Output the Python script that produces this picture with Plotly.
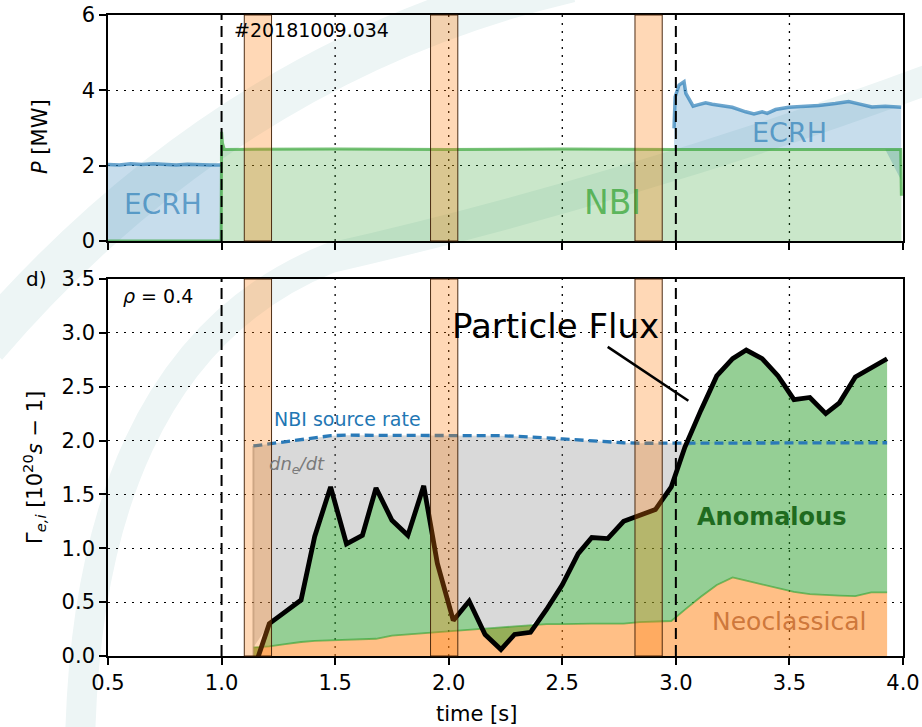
import numpy as np
import plotly.graph_objects as go

# ---------------- data ----------------
# Heating power (top panel)
ECRH1_T = [0.5, 0.55, 0.6, 0.65, 0.7, 0.75, 0.8, 0.85, 0.9, 0.95, 1.0]
ECRH1_P = [2.03, 2.02, 2.05, 2.03, 2.05, 2.04, 2.02, 2.04, 2.02, 2.02, 2.02]

ECRH2_T = [2.992, 2.997, 3.014, 3.036, 3.044, 3.061, 3.076, 3.10, 3.131, 3.16, 3.19, 3.248,
           3.307, 3.344, 3.38, 3.402, 3.439, 3.497, 3.571, 3.629, 3.702, 3.761, 3.805,
           3.863, 3.922, 3.992]
ECRH2_P = [2.99, 3.83, 4.14, 4.23, 3.92, 3.74, 3.58, 3.62, 3.67, 3.63, 3.61, 3.55,
           3.43, 3.37, 3.43, 3.39, 3.49, 3.55, 3.58, 3.60, 3.65, 3.70, 3.64,
           3.56, 3.58, 3.55]

NBI_T = [0.5, 0.998, 1.0, 1.004, 1.012, 1.5, 2.0, 2.5, 3.0, 3.5, 3.99, 3.993]
NBI_P = [0.0, 0.0, 2.9, 2.6, 2.43, 2.44, 2.43, 2.44, 2.43, 2.43, 2.43, 1.2]

# Particle balance at rho = 0.4 (bottom panel), units 1e20 / s
TIME = [1.14, 1.21, 1.28, 1.35, 1.41, 1.48, 1.55, 1.62, 1.68, 1.75, 1.82, 1.89, 1.95, 2.02,
        2.09, 2.16, 2.23, 2.29, 2.36, 2.43, 2.50, 2.57, 2.63, 2.70, 2.77, 2.84, 2.91, 2.98,
        3.04, 3.11, 3.18, 3.25, 3.31, 3.38, 3.45, 3.52, 3.59, 3.66, 3.72, 3.79, 3.86, 3.93]
FLUX = [-0.14, 0.30, 0.41, 0.52, 1.11, 1.57, 1.04, 1.12, 1.56, 1.26, 1.12, 1.58, 0.86, 0.33,
        0.51, 0.20, 0.06, 0.20, 0.22, 0.43, 0.66, 0.95, 1.10, 1.09, 1.25, 1.30, 1.36, 1.57,
        1.94, 2.28, 2.60, 2.76, 2.84, 2.76, 2.60, 2.38, 2.40, 2.25, 2.35, 2.59, 2.67, 2.76]
NEOCLASSICAL = [0.08, 0.09, 0.11, 0.13, 0.14, 0.145, 0.15, 0.155, 0.16, 0.19, 0.20, 0.21,
                0.225, 0.235, 0.245, 0.255, 0.265, 0.275, 0.285, 0.295, 0.295, 0.30, 0.30,
                0.30, 0.30, 0.315, 0.32, 0.325, 0.43, 0.55, 0.66, 0.73, 0.70, 0.665, 0.63,
                0.595, 0.575, 0.565, 0.56, 0.555, 0.59, 0.59]
NBI_SOURCE = [1.95, 1.97, 1.99, 2.01, 2.03, 2.045, 2.05, 2.05, 2.05, 2.05, 2.05, 2.05, 2.05,
              2.05, 2.05, 2.05, 2.045, 2.04, 2.035, 2.025, 2.015, 2.005, 1.995, 1.99, 1.98,
              1.975, 1.975, 1.975, 1.98, 1.98, 1.98, 1.98, 1.98, 1.98, 1.98, 1.98, 1.98,
              1.98, 1.98, 1.98, 1.98, 1.98]

# analysis windows and phase boundaries
WINDOWS = [(1.10, 1.22), (1.92, 2.04), (2.82, 2.94)]
PHASE_LINES = [1.0, 3.0]

X_TICKS = [0.5, 1.0, 1.5, 2.0, 2.5, 3.0, 3.5, 4.0]
P_TICKS = [0, 2, 4, 6]
G_TICKS = [0.0, 0.5, 1.0, 1.5, 2.0, 2.5, 3.0, 3.5]

# ---------------- styling ----------------
FONT = "DejaVu Sans"
W, H = 922, 727
ML, MR, MT, MB = 108, 19, 15, 71
PW, PH = W - ML - MR, H - MT - MB

BLUE = (31, 119, 180)
GREEN = (44, 160, 44)
ORANGE = (255, 127, 14)
GRID_DASH = "2px,6px"


def rgba(c, a):
    return f"rgba({c[0]},{c[1]},{c[2]},{a})"


def px(x):
    return (x - ML) / PW


def py(y):
    return (H - MB - y) / PH


fig = go.Figure()

# ---- top panel: heating power ----
fig.add_trace(go.Scatter(x=ECRH1_T, y=ECRH1_P, mode="lines", fill="tozeroy",
                         fillcolor=rgba(BLUE, 0.25), line=dict(color=rgba(BLUE, 0.65), width=3.5),
                         xaxis="x", yaxis="y", hoverinfo="skip"))
nbi_under_ecrh = np.interp(ECRH2_T, NBI_T, NBI_P)
fig.add_trace(go.Scatter(x=ECRH2_T, y=nbi_under_ecrh, mode="lines", line=dict(width=0),
                         xaxis="x", yaxis="y", hoverinfo="skip"))
fig.add_trace(go.Scatter(x=ECRH2_T, y=ECRH2_P, mode="lines", fill="tonexty",
                         fillcolor=rgba(BLUE, 0.25), line=dict(color=rgba(BLUE, 0.65), width=3.5),
                         xaxis="x", yaxis="y", hoverinfo="skip"))
fig.add_trace(go.Scatter(x=NBI_T, y=NBI_P, mode="lines", fill="tozeroy",
                         fillcolor=rgba(GREEN, 0.25), line=dict(color=rgba(GREEN, 0.65), width=3),
                         xaxis="x", yaxis="y", hoverinfo="skip"))

# ---- bottom panel: particle balance ----
flux = np.array(FLUX)
neo = np.array(NEOCLASSICAL)
src = np.array(NBI_SOURCE)
dndt_floor = np.minimum(np.maximum(flux, neo), src)

fig.add_trace(go.Scatter(x=TIME, y=dndt_floor, mode="lines", line=dict(width=0),
                         xaxis="x2", yaxis="y2", hoverinfo="skip"))
fig.add_trace(go.Scatter(x=TIME, y=NBI_SOURCE, mode="lines", fill="tonexty",
                         fillcolor="rgba(128,128,128,0.3)", line=dict(width=0),
                         xaxis="x2", yaxis="y2", hoverinfo="skip"))
fig.add_trace(go.Scatter(x=TIME, y=NEOCLASSICAL, mode="lines", fill="tozeroy",
                         fillcolor=rgba(ORANGE, 0.5), line=dict(color=rgba(GREEN, 0.6), width=1.8),
                         xaxis="x2", yaxis="y2", hoverinfo="skip"))
fig.add_trace(go.Scatter(x=TIME, y=FLUX, mode="lines", fill="tonexty",
                         fillcolor=rgba(GREEN, 0.5), line=dict(width=0),
                         xaxis="x2", yaxis="y2", hoverinfo="skip"))
# left edge of the dn/dt region
fig.add_trace(go.Scatter(x=[TIME[0], TIME[0]], y=[0, NBI_SOURCE[0]], mode="lines",
                         line=dict(color="rgba(128,128,128,0.45)", width=2),
                         xaxis="x2", yaxis="y2", hoverinfo="skip"))
fig.add_trace(go.Scatter(x=TIME, y=NBI_SOURCE, mode="lines",
                         line=dict(color="#2a7ab8", width=3.3, dash="9px,5px"),
                         xaxis="x2", yaxis="y2", hoverinfo="skip"))
fig.add_trace(go.Scatter(x=TIME, y=FLUX, mode="lines",
                         line=dict(color="black", width=4.8),
                         xaxis="x2", yaxis="y2", hoverinfo="skip"))


# ---- background logo swooshes ----
def swoosh(points_cmd):
    parts = []
    for tok in points_cmd:
        if isinstance(tok, str):
            parts.append(tok)
        else:
            parts.append(f"{px(tok[0]):.4f},{py(tok[1]):.4f}")
    return " ".join(parts)


WATERMARK = "rgb(237,245,245)"
shapes = [
    dict(type="path", xref="paper", yref="paper", layer="below",
         path=swoosh(["M", (-15, 345), "Q", (230, 60), (570, -20)]),
         line=dict(color=WATERMARK, width=45)),
    dict(type="path", xref="paper", yref="paper", layer="below",
         path=swoosh(["M", (80, 745), "C", (84, 520), (150, 330), (330, 258),
                      "C", (520, 215), (740, 150), (940, 75)]),
         line=dict(color=WATERMARK, width=30)),
]

for xr, yr in (("x", "y domain"), ("x2", "y2 domain")):
    # vertical dotted grid (phase boundaries carry their own dashed lines)
    for t in X_TICKS[1:-1]:
        if t in PHASE_LINES:
            continue
        shapes.append(dict(type="line", xref=xr, yref=yr, x0=t, x1=t, y0=0, y1=1,
                           line=dict(color="black", width=1.3, dash=GRID_DASH), layer="below"))
    for a, b in WINDOWS:
        shapes.append(dict(type="rect", xref=xr, yref=yr, x0=a, x1=b, y0=0, y1=1,
                           fillcolor=rgba(ORANGE, 0.3),
                           line=dict(color="rgba(60,25,0,0.9)", width=1), layer="above"))
    for t in PHASE_LINES:
        shapes.append(dict(type="line", xref=xr, yref=yr, x0=t, x1=t, y0=0, y1=1,
                           line=dict(color="black", width=2, dash="11px,6px"), layer="above"))

# pointer from the "Particle Flux" label to the curve
shapes.append(dict(type="line", xref="x2", yref="y2", x0=2.70, y0=2.87, x1=3.055, y1=2.37,
                   line=dict(color="black", width=2.5), layer="above"))


# ---------------- text ----------------
def label(text, x, y, size, color="black", xref="x", yref="y", xanchor="center", **kw):
    return dict(text=text, x=x, y=y, xref=xref, yref=yref, showarrow=False,
                xanchor=xanchor, yanchor="middle",
                font=dict(family=FONT, size=size, color=color), **kw)


annotations = [
    label("#20181009.034", 1.047, 5.6, 19, xanchor="left"),
    label("ECRH", 0.744, 0.98, 28, rgba(BLUE, 0.65)),
    label("NBI", 2.722, 1.03, 33, rgba(GREEN, 0.7)),
    label("ECRH", 3.50, 2.89, 27, rgba(BLUE, 0.65)),
    label("<i>ρ</i> = 0.4", 0.72, 3.34, 19, xref="x2", yref="y2"),
    label("NBI source rate", 1.556, 2.20, 19, "#1f77b4", xref="x2", yref="y2"),
    label("<i>dn<sub>e</sub>/dt</i>", 1.332, 1.77, 18, "#7a7a7a", xref="x2", yref="y2"),
    label("Particle Flux", 2.47, 3.064, 34, xref="x2", yref="y2"),
    label("<b>Anomalous</b>", 3.422, 1.29, 24, "#1f6b1f", xref="x2", yref="y2"),
    label("Neoclassical", 3.497, 0.318, 25, "rgba(200,110,50,0.9)", xref="x2", yref="y2"),
    label("d)", px(36), py(279), 20, xref="paper", yref="paper"),
    label("<i>P</i> [MW]", px(40), py(137), 21, xref="paper", yref="paper", textangle=-90),
    label("Γ<sub><i>e,i</i></sub> [10<sup>20</sup><i>s</i> − 1]", px(34), py(468), 21,
          xref="paper", yref="paper", textangle=-90),
    label("time [s]", px(476), py(714), 21, xref="paper", yref="paper"),
]

axis_common = dict(showline=True, linecolor="black", linewidth=1.6, mirror=True,
                   ticks="outside", ticklen=7, tickwidth=1.5, tickcolor="black",
                   gridcolor="black", gridwidth=1.3, griddash=GRID_DASH,
                   zeroline=False, automargin=False,
                   tickfont=dict(family=FONT, size=21, color="black"))

fig.update_layout(
    width=W, height=H,
    margin=dict(l=ML, r=MR, t=MT, b=MB, autoexpand=False),
    paper_bgcolor="white", plot_bgcolor="rgba(0,0,0,0)",
    showlegend=False,
    xaxis=dict(domain=[0, 1], anchor="y", range=[0.5, 4.0], tickvals=X_TICKS,
               showticklabels=False, showgrid=False, **axis_common),
    yaxis=dict(domain=[py(241), 1], anchor="x", range=[0, 6], tickvals=P_TICKS,
               showgrid=True, **axis_common),
    xaxis2=dict(domain=[0, 1], anchor="y2", range=[0.5, 4.0], tickvals=X_TICKS,
                tickformat=".1f", showgrid=False, **axis_common),
    yaxis2=dict(domain=[0, py(279)], anchor="x2", range=[0, 3.5], tickvals=G_TICKS,
                tickformat=".1f", showgrid=True, **axis_common),
    shapes=shapes,
    annotations=annotations,
)

fig.write_html("out.html")
